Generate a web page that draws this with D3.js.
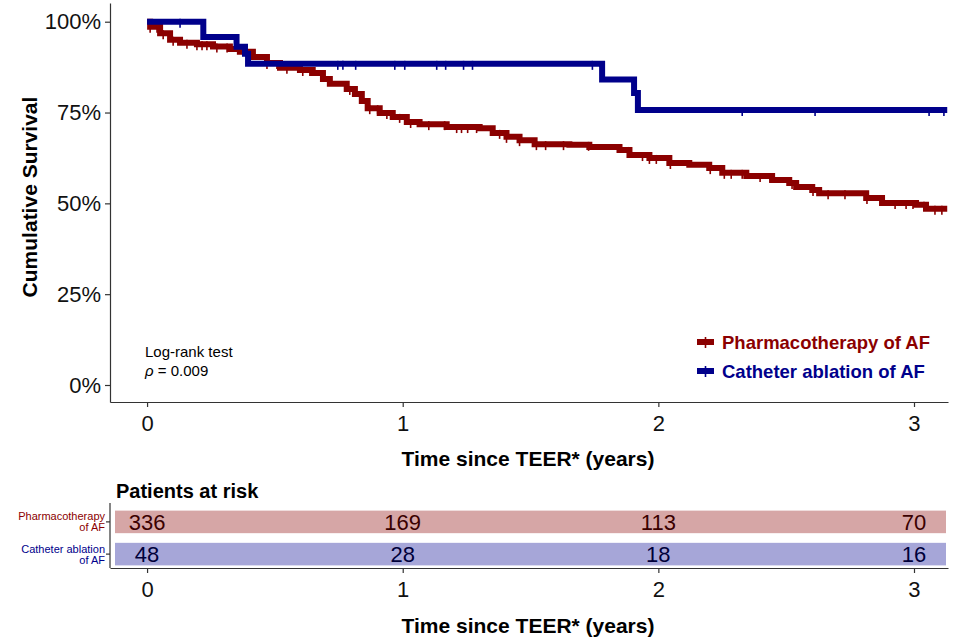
<!DOCTYPE html>
<html>
<head>
<meta charset="utf-8">
<script src="https://cdn.jsdelivr.net/npm/d3@7"></script>
<style>
  body { margin: 0; background: #fff; }
  svg { font-family: "Liberation Sans", Arial, sans-serif; }
</style>
</head>
<body>
<div id="chart"></div>
<script>
// Kaplan-Meier curves (time in years, survival as fraction)
const pharmaTime = [0, 0.012, 0.051, 0.090, 0.129, 0.195, 0.258, 0.324, 0.363, 0.414, 0.469, 0.520,
  0.598, 0.648, 0.688, 0.715, 0.781, 0.813, 0.840, 0.863, 0.910, 0.961, 1.016, 1.066, 1.172, 1.301,
  1.352, 1.406, 1.457, 1.516, 1.652, 1.730, 1.848, 1.887, 1.965, 2.043, 2.121, 2.199, 2.250, 2.344,
  2.445, 2.512, 2.539, 2.602, 2.629, 2.758, 2.813, 2.875, 3.008, 3.047, 3.13];
const pharmaSurv = [1, 0.986, 0.968, 0.950, 0.942, 0.938, 0.932, 0.925, 0.917, 0.903, 0.886, 0.873,
  0.867, 0.859, 0.842, 0.829, 0.815, 0.801, 0.782, 0.762, 0.749, 0.738, 0.724, 0.718, 0.710, 0.707,
  0.694, 0.683, 0.674, 0.663, 0.661, 0.655, 0.647, 0.633, 0.625, 0.611, 0.606, 0.597, 0.584, 0.575,
  0.564, 0.556, 0.545, 0.537, 0.528, 0.528, 0.515, 0.501, 0.496, 0.485, 0.485];
const cathTime = [0, 0.22, 0.35, 0.383, 0.395, 1.78, 1.905, 1.92, 3.13];
const cathSurv = [1, 0.958, 0.931, 0.912, 0.884, 0.841, 0.804, 0.757, 0.757];

// censoring marks (years)
const pharmaCensor = [0.012, 0.039, 0.063, 0.102, 0.156, 0.195, 0.215, 0.234, 0.273, 0.313, 0.469,
  0.508, 0.547, 0.609, 0.637, 0.793, 0.871, 0.902, 0.938, 0.988, 1.031, 1.102, 1.164, 1.211, 1.230,
  1.254, 1.289, 1.379, 1.406, 1.457, 1.523, 1.559, 1.629, 1.727, 1.883, 1.938, 1.965, 1.992, 2.047,
  2.203, 2.258, 2.285, 2.328, 2.398, 2.438, 2.523, 2.605, 2.664, 2.730, 2.816, 2.926, 2.969, 2.996,
  3.039, 3.082, 3.109];
const cathCensor = [0.129, 0.746, 0.766, 0.816, 0.969, 1.008, 1.133, 1.168, 1.238, 1.273, 1.742,
  2.328, 2.613, 3.059, 3.117];

// risk table
const years = [0, 1, 2, 3];
const yTicks = [0, 0.25, 0.5, 0.75, 1];
const pharmaRisk = [336, 169, 113, 70];
const cathRisk = [48, 28, 18, 16];
const groups = ["Pharmacotherapy of AF", "Catheter ablation of AF"];
const groupLines = [["Pharmacotherapy", "of AF"], ["Catheter ablation", "of AF"]];

const colors = ["#8B0000", "#00008B"];
const fills = ["#D6A6A6", "#A6A6D8"];

const width = 959, height = 640;
const svg = d3.select("#chart").append("svg")
  .attr("width", width).attr("height", height);

const x = d3.scaleLinear().domain([-0.145, 3.133]).range([110, 948]);
const y = d3.scaleLinear().domain([-0.0468, 1.0515]).range([402, 3]);

function styleAxis(g) {
  g.select(".domain").attr("stroke", "#333").attr("stroke-width", 1.2);
  g.selectAll(".tick line").attr("stroke", "#333").attr("stroke-width", 1.2);
  g.selectAll(".tick text").attr("fill", "#111").style("font-size", "22px")
    .style("font-family", "Liberation Sans, Arial, sans-serif");
}

// axes of survival panel
const xAxis = svg.append("g").attr("transform", "translate(0,402)")
  .call(d3.axisBottom(x).tickValues(years).tickSize(5).tickSizeOuter(0).tickFormat(d3.format("d")));
const yAxis = svg.append("g").attr("transform", "translate(110,0)")
  .call(d3.axisLeft(y).tickValues(yTicks).tickSize(5).tickSizeOuter(0).tickFormat(d3.format(".0%")));
styleAxis(xAxis);
styleAxis(yAxis);
xAxis.selectAll(".tick text").attr("dy", "0.95em");
yAxis.selectAll(".tick text").attr("x", -9);

svg.append("text").attr("x", 528).attr("y", 466).attr("text-anchor", "middle")
  .style("font-size", "21px").style("font-weight", "bold").text("Time since TEER* (years)");
svg.append("text").attr("transform", "translate(37,197) rotate(-90)").attr("text-anchor", "middle")
  .style("font-size", "21px").style("font-weight", "bold").text("Cumulative Survival");

// curves
const line = d3.line().curve(d3.curveStepAfter).x(d => x(d[0])).y(d => y(d[1]));
const survAt = (times, surv, t) => surv[d3.bisectRight(times, t) - 1];
const series = [
  { times: pharmaTime, surv: pharmaSurv, censor: pharmaCensor },
  { times: cathTime, surv: cathSurv, censor: cathCensor }
];
series.forEach((s, i) => {
  svg.append("path")
    .datum(s.times.map((t, j) => [t, s.surv[j]]))
    .attr("fill", "none").attr("stroke", colors[i]).attr("stroke-width", 6)
    .attr("d", line);
  svg.append("g").selectAll("line").data(s.censor).join("line")
    .attr("x1", d => x(d)).attr("x2", d => x(d))
    .attr("y1", d => y(survAt(s.times, s.surv, d)) - 3)
    .attr("y2", d => y(survAt(s.times, s.surv, d)) + 6)
    .attr("stroke", colors[i]).attr("stroke-width", 1.6);
});

// annotation
svg.append("text").attr("x", 145).attr("y", 357).style("font-size", "15px").text("Log-rank test");
const pt = svg.append("text").attr("x", 145).attr("y", 376).style("font-size", "15px");
pt.append("tspan").style("font-style", "italic").text("\u03c1");
pt.append("tspan").text(" = 0.009");

// legend
groups.forEach((g, i) => {
  const ly = 342 + i * 29;
  svg.append("line").attr("x1", 697).attr("x2", 714).attr("y1", ly).attr("y2", ly)
    .attr("stroke", colors[i]).attr("stroke-width", 6);
  svg.append("line").attr("x1", 705.5).attr("x2", 705.5).attr("y1", ly - 5).attr("y2", ly + 6)
    .attr("stroke", colors[i]).attr("stroke-width", 1.6);
  svg.append("text").attr("x", 722).attr("y", ly + 6.5).attr("fill", colors[i])
    .style("font-size", "18.5px").style("font-weight", "bold").text(g);
});

// risk table
svg.append("text").attr("x", 116).attr("y", 498).style("font-size", "20px")
  .style("font-weight", "bold").text("Patients at risk");

const rowY = d3.scaleBand().domain(groups).range([509, 567]).paddingInner(0.3).paddingOuter(0.05);
const riskData = [pharmaRisk, cathRisk];
groups.forEach((g, i) => {
  const top = rowY(g), bh = rowY.bandwidth();
  svg.append("rect").attr("x", x.range()[0] + 5).attr("y", top)
    .attr("width", x.range()[1] - x.range()[0] - 7).attr("height", bh)
    .attr("fill", fills[i]);
  svg.append("g").selectAll("text").data(years).join("text")
    .attr("x", d => x(d)).attr("y", top + bh / 2 + 8).attr("text-anchor", "middle")
    .attr("fill", i === 0 ? "#3a0000" : "#00003a").style("font-size", "22px")
    .text((d, j) => riskData[i][j]);
  groupLines[i].forEach((t, k) => {
    svg.append("text").attr("text-anchor", "end").attr("fill", colors[i])
      .attr("x", 105).attr("y", top + bh / 2 - 1.5 + k * 11)
      .style("font-size", "11px").text(t);
  });
});

const rAxisX = svg.append("g").attr("transform", "translate(0,568)")
  .call(d3.axisBottom(x).tickValues(years).tickSize(5).tickSizeOuter(0).tickFormat(d3.format("d")));
const rAxisY = svg.append("g").attr("transform", "translate(110,0)")
  .call(d3.axisLeft(rowY).tickSize(4).tickSizeOuter(0).tickFormat(""));
rAxisY.select(".domain").attr("d", "M0,503V568");
styleAxis(rAxisX);
styleAxis(rAxisY);
rAxisX.selectAll(".tick text").attr("dy", "0.95em");

svg.append("text").attr("x", 528).attr("y", 633).attr("text-anchor", "middle")
  .style("font-size", "21px").style("font-weight", "bold").text("Time since TEER* (years)");
</script>
</body>
</html>
